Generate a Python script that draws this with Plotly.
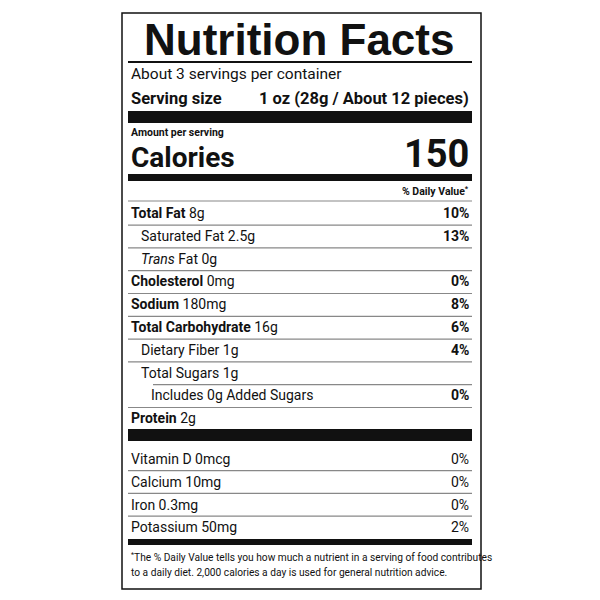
import plotly.graph_objects as go

nutr_labels = ["Total Fat", "Saturated Fat", "<i>Trans</i> Fat", "Cholesterol", "Sodium",
               "Total Carbohydrate", "Dietary Fiber", "Total Sugars", "Includes 0g Added Sugars", "Protein"]
nutr_amounts = ["8g", "2.5g", "0g", "0mg", "180mg", "16g", "1g", "1g", "", "2g"]
nutr_dv = ["10%", "13%", "", "0%", "8%", "6%", "4%", "", "0%", ""]
nutr_level = [0, 1, 1, 0, 0, 0, 1, 1, 2, 0]
vit_labels = ["Vitamin D 0mcg", "Calcium 10mg", "Iron 0.3mg", "Potassium 50mg"]
vit_dv = ["0%", "0%", "0%", "2%"]

F = "Liberation Sans Narrow, Roboto, Arial Narrow, sans-serif"
L, R = 128, 470
fig = go.Figure()
shapes = []
ann = []

def text(x, y, s, size, anchor="left", bold=False, font=F):
    if bold:
        s = "<b>" + s + "</b>"
    ann.append(dict(x=x, y=y, text=s, showarrow=False, xanchor=anchor, yanchor="middle",
                    font=dict(family=font, size=size, color="#111")))

def bar(y0, y1, x0=L - 1, x1=R + 1, color="#111"):
    shapes.append(dict(type="rect", x0=x0, x1=x1, y0=y0, y1=y1, line_width=0, fillcolor=color))

# outer box
shapes.append(dict(type="rect", x0=121, x1=480, y0=12, y1=588, line=dict(color="#111", width=1.5)))

text(298, 38, "Nutrition Facts", 44, "center", True, "Liberation Sans, Arial, sans-serif")
bar(60, 62)
text(L, 73, "About 3 servings per container", 15.5)
text(L, 97, "Serving size", 16.5, bold=True)
text(R, 97, "1 oz (28g / About 12 pieces)", 16.5, "right", True)
bar(110, 122)
text(L, 131, "Amount per serving", 10.5, bold=True)
text(L, 156, "Calories", 28, bold=True)
text(R, 153, "150", 38, "right", True)
bar(173, 180)
text(R, 190, "% Daily Value<sup>*</sup>", 10.5, "right", True)
bar(199.5, 200.5, color="#888")

y = 212
step = 22.8
for i, (lab, amt, dv, lev) in enumerate(zip(nutr_labels, nutr_amounts, nutr_dv, nutr_level)):
    x = L + [0, 10, 20][lev]
    s = ("<b>" + lab + "</b>" if lev == 0 else lab) + (" " + amt if amt else "")
    text(x, y, s, 14)
    if dv:
        text(R, y, dv, 14, "right", True)
    if i < len(nutr_labels) - 1:
        x0 = L + 24 if nutr_level[i + 1] == 2 else L - 1
        bar(y + 11.5, y + 12.7, x0=x0, color="#888")
    y += step
bar(428, 440)

y = 458
for i, (lab, dv) in enumerate(zip(vit_labels, vit_dv)):
    text(L, y, lab, 14)
    text(R, y, dv, 14, "right")
    if i < len(vit_labels) - 1:
        bar(y + 11, y + 12.2, color="#888")
    y += 22.8
bar(538, 544)

text(L, 555, "<sup>*</sup>The % Daily Value tells you how much a nutrient in a serving of food contributes", 10.2)
text(L, 571, "to a daily diet. 2,000 calories a day is used for general nutrition advice.", 10.2)

fig.update_layout(width=600, height=600, margin=dict(l=0, r=0, t=0, b=0),
                  paper_bgcolor="white", plot_bgcolor="white", shapes=shapes, annotations=ann,
                  xaxis=dict(range=[7, 607], visible=False, fixedrange=True),
                  yaxis=dict(range=[607, 7], visible=False, fixedrange=True), showlegend=False)
fig.write_html("out.html")
